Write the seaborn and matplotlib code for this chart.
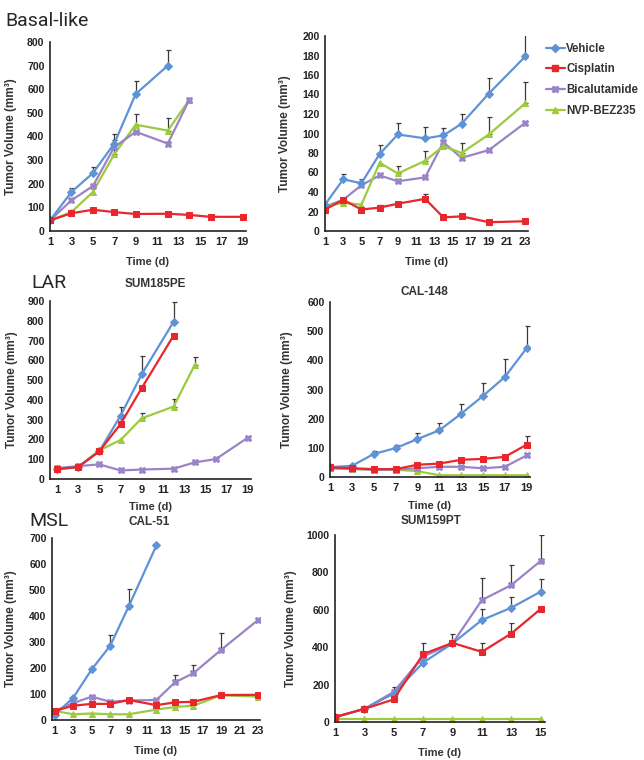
import numpy as np
import pandas as pd
import matplotlib.pyplot as plt
from matplotlib.lines import Line2D
import seaborn as sns

nan = np.nan

treatments = ['Vehicle', 'Cisplatin', 'Bicalutamide', 'NVP-BEZ235']

# Basal-like, left panel (no title)
bl1_days = [1, 3, 5, 7, 9, 12, 14, 16, 19]
bl1_vehicle = [45, 165, 245, 370, 580, 700, nan, nan, nan]
bl1_vehicle_err = [0, 15, 25, 40, 55, 65, 0, 0, 0]
bl1_cisplatin = [45, 75, 90, 80, 72, 73, 68, 60, 60]
bl1_cisplatin_err = [0, 0, 0, 0, 0, 0, 0, 0, 0]
bl1_bicalutamide = [45, 130, 190, 355, 420, 370, 555, nan, nan]
bl1_bicalutamide_err = [0, 0, 0, 0, 0, 0, 0, 0, 0]
bl1_nvp = [45, 80, 165, 325, 450, 425, 555, nan, nan]
bl1_nvp_err = [0, 0, 0, 60, 45, 55, 0, 0, 0]

# Basal-like, right panel
bl2_days = [1, 3, 5, 7, 9, 12, 14, 16, 19, 23]
bl2_vehicle = [27, 53, 49, 79, 99, 95, 98, 110, 141, 179]
bl2_vehicle_err = [0, 5, 4, 9, 12, 12, 8, 10, 16, 25]
bl2_cisplatin = [22, 32, 22, 24, 28, 33, 14, 15, 9, 10]
bl2_cisplatin_err = [0, 0, 0, 3, 0, 5, 0, 0, 0, 0]
bl2_bicalutamide = [25, 32, 47, 57, 51, 55, 91, 75, 83, 111]
bl2_bicalutamide_err = [0, 0, 0, 0, 0, 0, 0, 0, 0, 0]
bl2_nvp = [25, 29, 27, 70, 59, 72, 87, 80, 99, 131]
bl2_nvp_err = [0, 0, 0, 0, 8, 10, 0, 10, 18, 22]

# LAR - SUM185PE
lar1_days = [1, 3, 5, 7, 9, 12, 14, 16, 19]
lar1_vehicle = [50, 62, 140, 320, 530, 795, nan, nan, nan]
lar1_vehicle_err = [0, 0, 10, 45, 90, 100, 0, 0, 0]
lar1_cisplatin = [50, 60, 140, 278, 460, 725, nan, nan, nan]
lar1_cisplatin_err = [0, 0, 0, 0, 0, 0, 0, 0, 0]
lar1_bicalutamide = [55, 65, 74, 43, 48, 52, 84, 101, 209]
lar1_bicalutamide_err = [0, 0, 0, 0, 0, 0, 0, 0, 0]
lar1_nvp = [50, 60, 145, 197, 307, 366, 577, nan, nan]
lar1_nvp_err = [0, 0, 0, 0, 25, 40, 40, 0, 0]

# LAR - CAL-148
lar2_days = [1, 3, 5, 7, 9, 11, 13, 15, 17, 19]
lar2_vehicle = [34, 38, 79, 99, 130, 160, 217, 278, 343, 442]
lar2_vehicle_err = [0, 0, 10, 10, 20, 25, 35, 45, 60, 75]
lar2_cisplatin = [33, 30, 27, 27, 42, 46, 59, 62, 69, 111]
lar2_cisplatin_err = [0, 0, 0, 0, 0, 0, 0, 0, 0, 30]
lar2_bicalutamide = [30, 28, 25, 25, 30, 35, 35, 30, 35, 74]
lar2_bicalutamide_err = [0, 0, 0, 0, 0, 0, 0, 0, 0, 0]
lar2_nvp = [30, 28, 25, 25, 20, 6, 6, 6, 6, 6]
lar2_nvp_err = [0, 0, 0, 0, 0, 0, 0, 0, 0, 0]

# MSL - CAL-51
msl1_days = [1, 3, 5, 7, 9, 12, 14, 16, 19, 23]
msl1_vehicle = [20, 86, 195, 286, 437, 672, nan, nan, nan, nan]
msl1_vehicle_err = [0, 0, 0, 40, 65, 0, 0, 0, 0, 0]
msl1_cisplatin = [35, 55, 62, 62, 77, 57, 68, 70, 96, 97]
msl1_cisplatin_err = [0, 0, 0, 0, 0, 0, 0, 0, 0, 0]
msl1_bicalutamide = [35, 65, 90, 70, 75, 77, 145, 180, 270, 385]
msl1_bicalutamide_err = [0, 0, 0, 0, 0, 0, 30, 30, 65, 0]
msl1_nvp = [35, 22, 25, 22, 22, 40, 50, 55, 95, 90]
msl1_nvp_err = [0, 0, 0, 0, 0, 0, 0, 0, 0, 0]

# MSL - SUM159PT
msl2_days = [1, 3, 5, 7, 9, 11, 13, 15]
msl2_vehicle = [25, 71, 152, 318, 420, 545, 611, 697]
msl2_vehicle_err = [0, 0, 0, 0, 0, 60, 55, 70]
msl2_cisplatin = [27, 70, 121, 363, 423, 375, 473, 604]
msl2_cisplatin_err = [0, 0, 0, 60, 45, 45, 55, 0]
msl2_bicalutamide = [25, 70, 161, 350, 420, 652, 732, 861]
msl2_bicalutamide_err = [0, 0, 25, 0, 0, 120, 110, 140]
msl2_nvp = [18, 18, 18, 18, 18, 18, 18, 18]
msl2_nvp_err = [0, 0, 0, 0, 0, 0, 0, 0]

sns.set_style('white')
plt.rcParams['font.family'] = ['Liberation Sans', 'DejaVu Sans']

colors = {'Vehicle': '#5f93d6', 'Cisplatin': '#e8262c',
          'Bicalutamide': '#9a84c8', 'NVP-BEZ235': '#9dca3e'}
markers = {'Vehicle': 'D', 'Cisplatin': 's', 'Bicalutamide': 'X', 'NVP-BEZ235': '^'}
msizes = {'Vehicle': 4, 'Cisplatin': 5, 'Bicalutamide': 5, 'NVP-BEZ235': 4.5}

W, H = 644, 760
fig = plt.figure(figsize=(W / 100, H / 100), dpi=100)


def px_axes(x0, y_top, x1, y_bot):
    return fig.add_axes([x0 / W, 1 - y_bot / H, (x1 - x0) / W, (y_bot - y_top) / H])


def draw_panel(ax, days, series, xlim, xticks, ylim, yticks, ylab_px, xlab_px, zorder_order):
    for name in zorder_order:
        vals, errs = series[name]
        df = pd.DataFrame({'day': days, 'vol': vals, 'err': errs}).dropna()
        sns.lineplot(data=df, x='day', y='vol', ax=ax, color=colors[name],
                     marker=markers[name], markersize=msizes[name],
                     markeredgecolor=colors[name], linewidth=1.6, legend=False)
        eb = df[df['err'] > 0]
        if len(eb):
            ax.errorbar(eb['day'], eb['vol'], yerr=[np.zeros(len(eb)), eb['err']],
                        fmt='none', ecolor='#3a3a3a', elinewidth=0.9, capsize=1.8,
                        capthick=0.9, zorder=1)
    ax.set_xlim(*xlim)
    ax.set_ylim(*ylim)
    ax.set_xticks(xticks)
    ax.set_yticks(yticks)
    for s in ['top', 'right']:
        ax.spines[s].set_visible(False)
    for s in ['left', 'bottom']:
        ax.spines[s].set_color('#222222')
        ax.spines[s].set_linewidth(1.2)
    ax.tick_params(axis='both', direction='inout', length=4, width=1,
                   color='#222222', labelsize=7.5, pad=2, labelcolor='#222222')
    ax.tick_params(axis='x', labelsize=8)
    for lab in ax.get_xticklabels() + ax.get_yticklabels():
        lab.set_fontweight('bold')
    ax.set_xlabel('Time (d)', fontsize=8, fontweight='bold', color='#333333')
    ax.set_ylabel('Tumor Volume (mm³)', fontsize=8.5, fontweight='bold', color='#333333')
    ax.xaxis.set_label_coords(0.5, -xlab_px / (ax.get_position().height * H))
    ax.yaxis.set_label_coords(-ylab_px / (ax.get_position().width * W), 0.5)
    ax.patch.set_alpha(0)


odd19 = list(range(1, 20, 2))
odd23 = list(range(1, 24, 2))
odd15 = list(range(1, 16, 2))

ax1 = px_axes(50, 42, 246, 231)
draw_panel(ax1, bl1_days,
           {'Vehicle': (bl1_vehicle, bl1_vehicle_err),
            'Cisplatin': (bl1_cisplatin, bl1_cisplatin_err),
            'Bicalutamide': (bl1_bicalutamide, bl1_bicalutamide_err),
            'NVP-BEZ235': (bl1_nvp, bl1_nvp_err)},
           (1, 19.3), odd19, (0, 800), range(0, 801, 100), 33, 26,
           ['NVP-BEZ235', 'Bicalutamide', 'Vehicle', 'Cisplatin'])

ax2 = px_axes(325, 36, 528, 231)
draw_panel(ax2, bl2_days,
           {'Vehicle': (bl2_vehicle, bl2_vehicle_err),
            'Cisplatin': (bl2_cisplatin, bl2_cisplatin_err),
            'Bicalutamide': (bl2_bicalutamide, bl2_bicalutamide_err),
            'NVP-BEZ235': (bl2_nvp, bl2_nvp_err)},
           (1, 23.3), odd23, (0, 200), range(0, 201, 20), 34, 26,
           ['Bicalutamide', 'NVP-BEZ235', 'Vehicle', 'Cisplatin'])

ax3 = px_axes(50, 301, 251, 479)
draw_panel(ax3, lar1_days,
           {'Vehicle': (lar1_vehicle, lar1_vehicle_err),
            'Cisplatin': (lar1_cisplatin, lar1_cisplatin_err),
            'Bicalutamide': (lar1_bicalutamide, lar1_bicalutamide_err),
            'NVP-BEZ235': (lar1_nvp, lar1_nvp_err)},
           (0.35, 19.3), odd19, (0, 900), range(0, 901, 100), 32, 23,
           ['Bicalutamide', 'NVP-BEZ235', 'Vehicle', 'Cisplatin'])

ax4 = px_axes(330, 302, 530, 477)
draw_panel(ax4, lar2_days,
           {'Vehicle': (lar2_vehicle, lar2_vehicle_err),
            'Cisplatin': (lar2_cisplatin, lar2_cisplatin_err),
            'Bicalutamide': (lar2_bicalutamide, lar2_bicalutamide_err),
            'NVP-BEZ235': (lar2_nvp, lar2_nvp_err)},
           (1, 19.3), odd19, (0, 600), range(0, 601, 100), 37, 24,
           ['NVP-BEZ235', 'Bicalutamide', 'Vehicle', 'Cisplatin'])

ax5 = px_axes(52, 538, 260, 720)
draw_panel(ax5, msl1_days,
           {'Vehicle': (msl1_vehicle, msl1_vehicle_err),
            'Cisplatin': (msl1_cisplatin, msl1_cisplatin_err),
            'Bicalutamide': (msl1_bicalutamide, msl1_bicalutamide_err),
            'NVP-BEZ235': (msl1_nvp, msl1_nvp_err)},
           (0.7, 23.2), odd23, (0, 700), range(0, 701, 100), 35, 26,
           ['NVP-BEZ235', 'Bicalutamide', 'Vehicle', 'Cisplatin'])

ax6 = px_axes(335, 535, 545, 722)
draw_panel(ax6, msl2_days,
           {'Vehicle': (msl2_vehicle, msl2_vehicle_err),
            'Cisplatin': (msl2_cisplatin, msl2_cisplatin_err),
            'Bicalutamide': (msl2_bicalutamide, msl2_bicalutamide_err),
            'NVP-BEZ235': (msl2_nvp, msl2_nvp_err)},
           (1, 15.3), odd15, (0, 1000), range(0, 1001, 200), 38, 26,
           ['NVP-BEZ235', 'Bicalutamide', 'Vehicle', 'Cisplatin'])

# panel titles (cell line names)
title_kw = dict(fontsize=8.5, fontweight='bold', color='#333333', ha='center', va='center')
fig.text(155 / W, 1 - 284 / H, 'SUM185PE', **title_kw)
fig.text(424 / W, 1 - 292 / H, 'CAL-148', **title_kw)
fig.text(149 / W, 1 - 522 / H, 'CAL-51', **title_kw)
fig.text(431 / W, 1 - 521 / H, 'SUM159PT', **title_kw)

# legend
handles = [Line2D([0], [0], color=colors[t], marker=markers[t], markersize=msizes[t],
                  markeredgecolor=colors[t], linewidth=1.6) for t in treatments]
leg = fig.legend(handles, treatments, loc='upper left',
                 bbox_to_anchor=(541 / W, 1 - 38 / H), frameon=False,
                 handlelength=1.7, handletextpad=0.1, labelspacing=0.75,
                 prop={'size': 8.3, 'weight': 'bold'}, borderaxespad=0)
for t in leg.get_texts():
    t.set_color('#333333')

# subtype labels
group_font = ['Liberation Sans Narrow', 'Roboto', 'DejaVu Sans']
fig.text(5 / W, 1 - 21 / H, 'Basal-like', fontsize=14, family=group_font, va='center')
fig.text(31 / W, 1 - 283 / H, 'LAR', fontsize=14, family=group_font, va='center')
fig.text(29 / W, 1 - 521 / H, 'MSL', fontsize=14, family=group_font, va='center')

fig.savefig('out.png', dpi=100)
